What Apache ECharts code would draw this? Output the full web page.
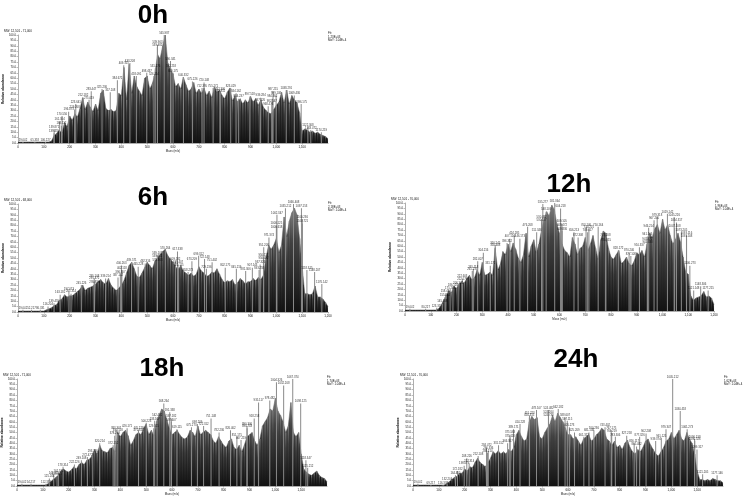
<!DOCTYPE html>
<html><head><meta charset="utf-8">
<style>html,body{margin:0;background:#fff}#c{width:744px;height:497px}</style>
<script src="https://cdn.jsdelivr.net/npm/echarts@6/dist/echarts.min.js"></script></head>
<body><div id="c"></div>
<script>
const panelNames = ["0h","6h","12h","18h","24h"];
const mzStep = 10;
const headers = ["MW: 12,501 - 71,000","MW: 12,501 - 68,000","MW: 12,501 - 70,000","MW: 12,501 - 71,000","MW: 12,501 - 70,000"];
const env0h = [1,1,1,1,1,1,1,1,1,1,
1,1,1,2,7,9,12,9,19,15,
25,21,27,24,32,42,31,38,33,29,
36,30,46,49,32,30,31,29,30,46,
44,70,40,73,46,62,52,48,44,60,
62,50,55,64,82,78,90,100,74,68,
64,52,55,50,61,54,48,50,56,46,
50,46,51,44,48,42,52,47,49,44,
41,47,51,39,44,38,41,36,40,37,
43,38,41,35,40,33,30,28,27,31,
35,38,47,37,49,36,44,40,37,28,
11,13,12,10,11,9,10,8,7,6,4];
const env6h = [1,1,1,1,1,1,1,1,1,1,
1,2,3,4,6,7,11,12,16,14,
15,15,17,19,21,25,20,22,23,24,
26,28,30,27,26,31,25,22,20,22,
25,29,36,43,46,40,33,32,36,41,
46,43,40,47,50,53,56,58,52,49,
46,42,39,43,38,36,34,36,33,35,
42,38,36,33,34,37,36,40,35,30,
27,29,28,30,25,27,31,29,26,28,
28,31,29,32,30,34,50,62,58,62,
68,55,62,88,70,84,92,96,90,68,
42,17,17,16,17,24,14,14,12,9,5];
const env12h = [1,1,1,1,1,1,1,1,1,1,
1,1,1,2,5,10,14,19,17,23,
21,25,27,26,30,33,29,31,38,33,
45,33,34,36,33,58,38,43,55,52,
62,55,63,57,49,45,52,72,50,60,
66,54,62,75,85,92,88,98,94,80,
72,62,56,54,50,68,62,52,58,60,
68,56,62,70,58,48,66,74,72,58,
50,48,52,56,44,46,50,44,42,46,
54,52,56,50,62,72,68,76,80,72,
85,75,80,70,62,66,72,64,50,36,
34,14,10,12,13,14,18,13,14,12,6];
const env18h = [1,1,1,1,1,1,1,1,1,1,
1,1,2,4,6,8,10,14,16,14,
13,15,18,16,20,22,20,24,25,28,
34,30,38,33,32,31,35,36,32,50,
46,50,52,47,38,42,48,50,48,54,
58,48,52,47,60,66,72,70,62,54,
48,50,52,48,45,44,46,52,50,46,
56,48,50,52,50,48,42,40,46,42,
38,36,42,44,36,34,38,32,38,46,
48,50,42,38,44,56,60,64,72,70,
82,70,66,60,50,56,78,50,46,50,
30,16,13,11,10,12,14,10,8,7,4];
const env24h = [1,1,1,1,1,1,1,1,1,1,
1,1,1,2,4,6,8,9,12,12,
16,14,18,17,22,26,22,20,18,22,
26,32,30,33,30,32,30,34,32,36,
48,52,46,42,44,60,65,62,64,46,
44,50,54,58,66,60,68,64,60,54,
48,48,44,46,42,38,44,46,48,42,
44,48,50,54,52,44,42,38,42,36,
38,34,40,43,36,32,30,34,32,36,
42,44,38,34,30,28,32,36,42,44,
50,44,48,52,44,42,50,44,40,30,
14,6,6,5,6,5,7,6,5,5,3];
const peaks0h = [[19.042,1],[65.318,1],[106.227,1],[139.455,9],[139.871,13],[168.112,16],[161.304,20],[170.556,25],[196.073,29],[219.268,31],[223.641,36],[252.182,42],[275.019,40],[283.447,48],[325.236,50],[357.108,47],[384.672,58],[409.315,72],[433.208,74],[458.091,62],[498.437,65],[526.114,62],[531.276,69],[539.482,89],[539.903,91],[565.987,100],[590.341,76],[592.218,69],[600.175,65],[640.332,61],[675.226,57],[720.148,56],[712.395,51],[755.271,51],[782.306,48],[782.811,46],[823.429,51],[844.162,46],[854.237,41],[897.518,43],[939.284,42],[937.126,38],[968.473,34],[987.215,48],[984.362,41],[999.108,44],[982.547,37],[1038.291,49],[1069.436,44],[1096.175,36],[1122.308,15],[1133.472,12],[1174.219,10]];
const peaks6h = [[19.042,2],[52.217,2],[86.331,2],[116.204,5],[139.455,8],[163.182,16],[197.073,19],[205.314,17],[245.226,25],[295.108,31],[295.472,29],[295.836,26],[339.214,31],[387.152,32],[396.307,35],[402.118,39],[400.263,43],[439.571,46],[465.228,42],[492.316,45],[539.107,53],[539.482,50],[539.903,46],[570.264,57],[617.338,56],[609.182,47],[619.407,44],[622.115,41],[658.273,37],[673.209,47],[699.312,52],[722.148,49],[729.236,40],[751.402,46],[802.175,41],[845.219,40],[881.306,38],[907.143,41],[933.258,39],[950.117,51],[950.482,48],[937.326,44],[951.208,60],[971.374,69],[1000.125,80],[1000.618,77],[1002.347,90],[1035.212,96],[1066.408,100],[1097.153,96],[1100.236,86],[1100.721,82],[1118.315,39],[1148.207,37],[1176.142,26]];
const peaks12h = [[19.042,2],[80.227,2],[123.315,3],[145.108,7],[155.264,13],[158.417,16],[175.203,19],[186.128,22],[206.341,24],[222.176,28],[222.603,30],[261.235,37],[265.118,39],[282.407,46],[304.216,54],[331.172,42],[350.245,61],[350.608,59],[396.312,63],[407.124,67],[424.285,70],[446.173,67],[476.208,78],[511.346,73],[530.117,82],[530.482,85],[535.277,99],[548.109,92],[581.364,100],[604.218,95],[609.105,81],[609.472,78],[609.836,74],[656.213,73],[672.308,68],[703.146,78],[714.225,76],[709.317,73],[750.164,78],[778.208,68],[780.315,64],[828.172,56],[870.246,54],[877.108,51],[910.337,59],[946.214,77],[941.106,69],[941.472,65],[941.838,62],[967.205,84],[979.318,87],[1019.142,90],[1045.226,87],[1054.317,82],[1047.108,77],[1073.245,73],[1093.116,70],[1093.508,67],[1106.273,42],[1121.148,19],[1148.306,23],[1177.215,19]];
const peaks18h = [[19.042,2],[54.217,2],[112.331,2],[125.204,7],[142.455,10],[161.182,12],[155.073,9],[178.314,18],[222.226,20],[249.108,24],[272.472,27],[293.336,31],[320.214,40],[372.152,38],[383.307,52],[390.118,50],[378.263,47],[426.171,54],[470.228,52],[470.616,50],[500.223,59],[529.315,54],[533.107,61],[542.482,64],[568.264,77],[591.338,69],[597.182,63],[597.607,60],[619.115,53],[675.273,55],[698.209,58],[722.312,56],[751.148,63],[782.236,50],[826.402,52],[851.175,46],[867.219,43],[890.306,56],[890.743,54],[918.258,63],[935.117,78],[978.482,80],[1004.326,97],[1032.208,94],[1067.374,100],[1098.125,77],[1118.347,24],[1125.212,17]];
const peaks24h = [[19.042,2],[69.217,1],[116.331,1],[132.204,4],[164.455,10],[172.182,14],[198.073,19],[217.314,21],[208.226,26],[252.108,28],[284.472,36],[291.336,33],[288.214,31],[331.152,38],[366.307,40],[375.118,45],[375.563,48],[389.171,53],[414.228,58],[451.223,66],[450.315,64],[478.107,71],[524.482,71],[524.264,67],[524.738,64],[562.182,72],[588.607,64],[597.115,61],[605.273,55],[625.209,50],[661.312,46],[681.148,50],[700.236,52],[743.402,55],[767.175,52],[769.219,49],[783.306,46],[827.258,47],[856.117,40],[865.482,37],[877.326,46],[902.208,49],[939.374,42],[961.125,45],[979.347,53],[1005.212,100],[1034.418,70],[1061.273,53],[1090.138,44],[1090.526,42],[1099.317,34],[1121.205,11],[1177.146,10]];
const envs = [env0h,env6h,env12h,env18h,env24h];
const peaks = [peaks0h,peaks6h,peaks12h,peaks18h,peaks24h];
const lastTickShown = [false,true,true,false,false];
const boxes = [[18,35,310,108],[18,204,310,108],[405,203,309,108],[17,379,310,108],[413,379,310,108]];
const titlePos = [[153,3],[153,185],[569,172],[162,356],[576,347]];
const headPos = [[4,30],[4,199],[391,198],[3,374],[400,374]];
const notePos = [[328,32],[328,202],[715,201],[327,376],[724,376]];
const noteText = ["Fit:\n1.23E+03\nMoY: 1.04E+4","Fit:\n2.18E+03\nMoY: 1.04E+4","Fit:\n1.96E+03\nMoY: 1.04E+4","Fit:\n1.74E+03\nMoY: 1.04E+4","Fit:\n1.62E+03\nMoY: 1.04E+4"];

const gray = {type:'linear',x:0,y:0,x2:0,y2:1,colorStops:[{offset:0,color:'#7c7c7c'},{offset:.3,color:'#424242'},{offset:1,color:'#121212'}]};
const grid=[],xAxis=[],yAxis=[],series=[],title=[];
panelNames.forEach((name,i)=>{
  const b=boxes[i];
  grid.push({left:b[0],top:b[1],width:b[2],height:b[3]});
  xAxis.push({gridIndex:i,type:'value',min:0,max:1200,interval:100,name:'Mass (m/z)',nameLocation:'middle',nameGap:7,
    nameTextStyle:{fontSize:2.9,color:'#222',fontFamily:'Liberation Sans'},splitLine:{show:false},
    axisLine:{lineStyle:{color:'#777',width:.6}},axisTick:{length:1.5,lineStyle:{color:'#777',width:.5}},
    axisLabel:{fontSize:3,margin:2.5,color:'#111',fontFamily:'Liberation Sans',showMaxLabel:lastTickShown[i]}});
  yAxis.push({gridIndex:i,type:'value',min:0,max:100,interval:5,name:'Relative abundance',nameLocation:'middle',nameGap:11,
    nameTextStyle:{fontSize:3.2,color:'#111',fontWeight:'bold',fontFamily:'Liberation Sans'},splitLine:{show:false},
    axisLine:{show:true,lineStyle:{color:'#777',width:.6}},axisTick:{show:true,length:1.5,lineStyle:{color:'#777',width:.5}},
    axisLabel:{fontSize:2.8,margin:2,color:'#111',fontFamily:'Liberation Sans',formatter:v=>v.toFixed(1)}});
  const envData=envs[i].map((v,k)=>[k*mzStep,v]);
  series.push({type:'line',xAxisIndex:i,yAxisIndex:i,data:envData,symbol:'none',silent:true,z:2,
    lineStyle:{width:.5,color:'#666'},areaStyle:{color:gray,opacity:1}});
  series.push({type:'bar',xAxisIndex:i,yAxisIndex:i,data:envData,barWidth:1.2,silent:true,z:3,
    itemStyle:{color:gray}});
  series.push({type:'bar',xAxisIndex:i,yAxisIndex:i,data:peaks[i].map(p=>[p[0],p[1]]),barWidth:.8,barGap:'-100%',silent:true,z:4,
    itemStyle:{color:'#8a8a8a'}});
  series.push({type:'scatter',xAxisIndex:i,yAxisIndex:i,data:peaks[i].map(p=>[p[0],p[1]]),symbolSize:0,silent:true,z:5,
    label:{show:true,position:'top',distance:.5,fontSize:2.8,color:'#000',fontFamily:'Liberation Sans',
      formatter:p=>p.value[0].toFixed(3)}});
  title.push({text:name,left:titlePos[i][0],top:titlePos[i][1],textAlign:'center',padding:0,
    textStyle:{fontSize:26,fontWeight:'bold',color:'#000',fontFamily:'Liberation Sans'}});
  title.push({text:headers[i],left:headPos[i][0],top:headPos[i][1],padding:0,
    textStyle:{fontSize:3,fontWeight:'normal',color:'#111',fontFamily:'Liberation Sans'}});
  title.push({text:noteText[i],left:notePos[i][0],top:notePos[i][1],padding:0,
    textStyle:{fontSize:2.9,lineHeight:3.4,fontWeight:'normal',color:'#111',fontFamily:'Liberation Sans'}});
});
const chart=echarts.init(document.getElementById('c'),null,{renderer:'canvas'});
chart.setOption({animation:false,backgroundColor:'#fff',title,grid,xAxis,yAxis,series});
</script></body></html>
